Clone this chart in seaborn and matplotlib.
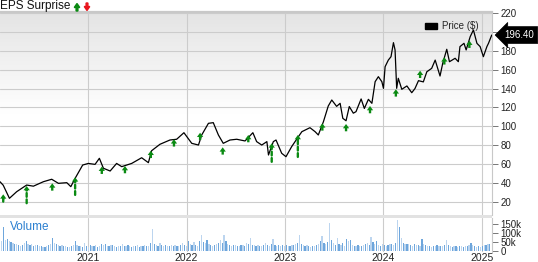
import matplotlib
matplotlib.use("Agg")
import numpy as np
import pandas as pd
import seaborn as sns
import matplotlib.pyplot as plt
from matplotlib.colors import LinearSegmentedColormap
from matplotlib.patches import Patch, Rectangle, FancyArrow
from matplotlib.transforms import IdentityTransform, blended_transform_factory

# ---------------- data ----------------
price_dates = [
    "2020-02-08", "2020-02-20", "2020-03-14", "2020-04-10", "2020-05-17", "2020-06-11",
    "2020-07-18", "2020-08-18", "2020-09-12", "2020-10-13", "2020-10-28", "2020-11-13",
    "2020-12-11", "2021-01-01", "2021-01-26", "2021-02-11", "2021-02-26", "2021-03-23",
    "2021-04-16", "2021-05-05", "2021-06-11", "2021-07-18", "2021-08-12", "2021-08-24",
    "2021-09-24", "2021-10-31", "2021-11-25", "2021-12-22", "2022-01-20", "2022-02-14",
    "2022-02-26", "2022-03-23", "2022-04-10", "2022-04-29", "2022-05-17", "2022-06-11",
    "2022-07-06", "2022-08-06", "2022-09-04", "2022-09-18", "2022-10-07", "2022-10-26",
    "2022-11-01", "2022-11-19", "2022-11-29", "2022-12-20", "2023-01-05", "2023-01-26",
    "2023-02-20", "2023-03-05", "2023-04-04", "2023-04-23", "2023-05-05", "2023-05-24",
    "2023-06-11", "2023-06-24", "2023-07-12", "2023-07-25", "2023-08-04", "2023-08-16",
    "2023-08-28", "2023-09-12", "2023-09-22", "2023-10-11", "2023-10-23", "2023-11-07",
    "2023-11-20", "2023-12-02", "2023-12-14", "2023-12-27", "2024-01-02", "2024-01-08",
    "2024-01-20", "2024-01-30", "2024-02-08", "2024-02-14", "2024-02-20", "2024-02-26",
    "2024-03-10", "2024-03-29", "2024-04-16", "2024-04-28", "2024-05-11", "2024-05-29",
    "2024-06-11", "2024-06-29", "2024-07-12", "2024-07-30", "2024-08-09", "2024-08-24",
    "2024-09-03", "2024-09-24", "2024-10-06", "2024-10-12", "2024-10-27", "2024-11-04",
    "2024-11-19", "2024-12-01", "2024-12-14", "2024-12-26", "2025-01-07", "2025-01-20",
    "2025-01-26", "2025-02-07",
]
prices = [
    41.7, 38.0, 24.2, 31.2, 38.2, 37.0,
    41.7, 44.3, 40.0, 40.7, 36.5, 45.3,
    59.3, 61.0, 60.0, 66.4, 55.9, 53.0,
    61.0, 57.6, 61.0, 67.0, 61.8, 74.4,
    81.2, 85.7, 86.5, 93.4, 82.2, 80.4,
    91.0, 103.3, 104.0, 91.0, 82.2, 85.7,
    86.5, 84.7, 93.4, 84.0, 80.4, 84.0,
    69.9, 84.0, 85.7, 71.7, 68.1, 78.7,
    89.2, 94.5, 98.7, 94.5, 91.0, 105.0,
    121.6, 127.9, 121.2, 124.4, 108.6, 106.0,
    121.0, 114.0, 115.6, 129.0, 119.0, 128.6,
    124.4, 147.2, 152.5, 147.2, 140.2, 163.0,
    170.0, 173.6, 188.4, 180.7, 140.2, 150.8,
    139.2, 142.7, 135.6, 140.0, 148.3, 147.0,
    157.7, 161.3, 170.0, 153.2, 166.6, 181.4,
    168.3, 171.9, 168.3, 184.2, 187.7, 180.7,
    194.7, 201.8, 187.7, 184.2, 173.6, 184.2,
    187.7, 196.4,
]

eps_dates = [
    "2020-02-20", "2020-05-17", "2020-08-20", "2020-11-13", "2021-02-20", "2021-05-17",
    "2021-08-21", "2021-11-15", "2022-02-20", "2022-05-15", "2022-08-18", "2022-11-13",
    "2023-02-18", "2023-05-20", "2023-08-16", "2023-11-13", "2024-02-17", "2024-05-17",
    "2024-08-15", "2024-11-16",
]
eps_price = [
    28.4, 37.2, 40.0, 46.4, 57.6, 58.3, 74.4, 86.5, 93.4, 78.0,
    91.0, 82.2, 91.0, 103.3, 102.6, 121.6, 139.2, 158.8, 173.0, 190.5,
]
eps_surprise_pct = [12, 40, 6, 41, 5, 7, 4, 6, 5, 4, 6, 43, 51, 5, 4, 6, 5, 4, 5, 6]

volume_k = [
    30, 55, 135, 60, 65, 55, 50, 45, 40, 42, 35, 30, 32,
    45, 55, 40, 35, 38, 30, 32, 35, 28, 30, 25, 22, 28,
    32, 40, 74, 45, 40, 35, 30, 32, 28, 30, 25, 26, 28,
    35, 55, 32, 30, 28, 25, 47, 30, 25, 35, 28, 30, 32,
    25, 30, 40, 35, 38, 30, 28, 32, 35, 30, 26, 28, 30,
    40, 30, 28, 35, 30, 25, 28, 30, 32, 26, 28, 30, 35,
    28, 30, 45, 125, 40, 35, 30, 45, 32, 30, 35, 28, 30,
    32, 30, 35, 28, 30, 32, 45, 35, 30, 55, 40, 32, 50,
    35, 30, 55, 90, 50, 45, 60, 40, 35, 30, 32, 38, 45,
    60, 45, 90, 55, 40, 35, 30, 32, 35, 30, 28, 32, 35,
    30, 45, 40, 74, 35, 32, 30, 35, 28, 30, 32, 45, 35,
    30, 40, 65, 35, 30, 32, 28, 35, 30, 32, 28, 30, 35,
    32, 38, 45, 90, 40, 35, 30, 32, 28, 25, 30, 28, 35,
    40, 55, 84, 45, 40, 50, 153, 60, 45, 35, 74, 40, 35,
    45, 30, 65, 55, 60, 35, 30, 28, 32, 30, 28, 35, 40,
    45, 35, 78, 50, 40, 55, 35, 30, 38, 32, 30, 35, 40,
    38, 35, 45, 174, 136, 74, 45, 40, 38, 40, 35, 30, 38,
    35, 32, 30, 65, 40, 35, 30, 28, 25, 30, 28, 32, 30,
    28, 30, 35, 60, 35, 28, 25, 30, 28, 25, 30, 28, 25,
    28, 30, 35, 48, 35, 30, 25, 28, 22, 30, 35, 32, 38,
    40,
]
volume_start = "2020-02-07"

price_ticks = list(range(20, 221, 20))
price_tick_labels = ["20", "40", "60", "80", "100", "120", "140", "160", "180", "", "220"]
volume_ticks = [0, 50, 100, 150]
volume_tick_labels = ["0", "50k", "100k", "150k"]
year_ticks = ["2021-01-01", "2022-01-01", "2023-01-01", "2024-01-01", "2025-01-01"]
year_labels = ["2021", "2022", "2023", "2024", "2025"]
last_price_label = "196.40"
last_price = 196.40

# ---------------- style ----------------
sns.set_theme(style="white")
plt.rcParams["font.family"] = ["Liberation Sans", "DejaVu Sans"]

W, H = 538, 262
fig = plt.figure(figsize=(W / 100, H / 100), dpi=100)


def rect(l, t, r, b):
    return [l / W, 1 - b / H, (r - l) / W, (b - t) / H]


GRID = "#cccccc"
GREEN = "#0a8a12"
TXT = "#222222"

# background gradient for the price panel
bg = fig.add_axes(rect(0, 12.5, 492, 215), zorder=0)
bg.axis("off")
cmap = LinearSegmentedColormap.from_list("g", ["#ffffff", "#ffffff", "#e4e4e4"])
grad = np.linspace(0, 1, 256).reshape(-1, 1)
bg.imshow(grad, cmap=cmap, aspect="auto", origin="lower", extent=[0, 1, 0, 1])
bg.set_xlim(0, 1)
bg.set_ylim(0, 1)

ax = fig.add_axes(rect(0, 12.5, 492, 215), zorder=1)
ax.patch.set_alpha(0)
axv = fig.add_axes(rect(0, 218, 492, 252), sharex=ax, zorder=1)
axv.patch.set_alpha(0)

# separator band
fig.patches.append(Rectangle((0, 1 - 218 / H), 492 / W, 3 / H, transform=fig.transFigure,
                             facecolor="#e2e2e2", edgecolor="none", zorder=0))

xmin = pd.Timestamp("2020-02-08")
xmax = pd.Timestamp("2025-02-08")

# ---- price panel ----
df = pd.DataFrame({"date": pd.to_datetime(price_dates), "price": prices})
sns.lineplot(data=df, x="date", y="price", ax=ax, color="black", linewidth=0.9, zorder=3)
ax.set_xlim(xmin, xmax)
ax.set_ylim(6.6, 220.2)
ax.set_yticks(price_ticks)
ax.set_yticklabels(price_tick_labels)
ax.set_xticks(pd.to_datetime(year_ticks))
ax.grid(True, color=GRID, linewidth=0.8, zorder=1)
ax.set_axisbelow(True)
ax.yaxis.tick_right()
ax.tick_params(axis="y", which="both", right=True, left=False, length=4, width=0.7,
               color="#777777", pad=2, labelsize=7, labelcolor=TXT)
ax.tick_params(axis="x", bottom=False, labelbottom=False)
ax.set_xlabel("")
ax.set_ylabel("")
for s in ["left", "bottom"]:
    ax.spines[s].set_visible(False)
ax.spines["top"].set_color("#c8c8c8")
ax.spines["top"].set_linewidth(1.6)
ax.spines["right"].set_color("#c8c8c8")
ax.spines["right"].set_linewidth(0.8)

# EPS arrows
edates = pd.to_datetime(eps_dates)
for d, p, pct in zip(edates, eps_price, eps_surprise_pct):
    L = max(7.3, pct * 0.43)
    dashed = pct >= 10
    if dashed:
        ax.annotate("", xy=(d, p), xycoords="data", xytext=(0, -L), textcoords="offset pixels",
                    arrowprops=dict(arrowstyle="-", color=GREEN, lw=1.7, linestyle=(0, (1.6, 1.1)),
                                    shrinkA=0, shrinkB=3.0), zorder=4)
        hl = 5.2
    else:
        hl = L
    ax.annotate("", xy=(d, p), xycoords="data", xytext=(0, -hl), textcoords="offset pixels",
                arrowprops=dict(arrowstyle="simple,head_length=0.31,head_width=0.45,tail_width=0.17",
                                mutation_scale=10, color=GREEN, shrinkA=0, shrinkB=0, lw=0),
                zorder=5)

# legend
ax.legend(handles=[Patch(facecolor="black", edgecolor="black")], labels=["Price ($)"],
          loc="upper right", bbox_to_anchor=(0.985, 0.985), frameon=False, fontsize=7,
          handlelength=1.3, handleheight=0.45, handletextpad=0.5, borderaxespad=0.2)

# last price tag
ax.annotate(last_price_label, xy=(1.0, last_price), xycoords=("axes fraction", "data"),
            xytext=(9, 0), textcoords="offset points", ha="left", va="center",
            color="white", fontsize=7,
            bbox=dict(boxstyle="larrow,pad=0.35", fc="black", ec="black", lw=0.5),
            annotation_clip=False, zorder=6)

# ---- volume panel ----
vdates = pd.date_range(volume_start, periods=len(volume_k), freq="7D")
vcolors = ["#6ea6dc" if i % 2 == 0 else "#bcd5ef" for i in range(len(volume_k))]
axv.bar(vdates, volume_k, width=4.6, color=vcolors, linewidth=0, zorder=2)
axv.set_xlim(xmin, xmax)
axv.set_ylim(-3.8, 183)
axv.set_yticks(volume_ticks)
axv.set_yticklabels(volume_tick_labels)
axv.yaxis.tick_right()
axv.tick_params(axis="y", right=True, left=False, length=4, width=0.7, color="#777777",
                pad=2, labelsize=7, labelcolor=TXT)
axv.set_xticks(pd.to_datetime(year_ticks))
axv.tick_params(axis="x", bottom=False, length=0, labelbottom=False)
axv.grid(True, axis="x", color=GRID, linewidth=0.8, zorder=1)
axv.grid(False, axis="y")
axv.set_axisbelow(True)
for s in ["left", "bottom", "top"]:
    axv.spines[s].set_visible(False)
axv.spines["right"].set_color("#c8c8c8")
axv.spines["right"].set_linewidth(0.8)
axv.text(10 / 492, 0.74, "Volume", transform=axv.transAxes, color="#2a7fd0", fontsize=8.5,
         va="center", ha="left")

# year labels placed just under the volume panel
btr = blended_transform_factory(axv.transData, fig.transFigure)
for d, lab in zip(pd.to_datetime(year_ticks), year_labels):
    axv.text(d, 1.2 / H, lab, transform=btr, ha="center", va="baseline", fontsize=7.5,
             color=TXT, clip_on=False)

# ---- header ----
fig.text(0.5 / W, 1 - 6.5 / H, "EPS Surprise", fontsize=8.5, va="center", ha="left", color="#111111")
it = IdentityTransform()
fig.patches.append(FancyArrow(77, H - 11, 0, 7.5, width=1.8, head_width=5.5, head_length=4,
                              length_includes_head=True, color=GREEN, transform=it))
fig.patches.append(FancyArrow(87, H - 3, 0, -7.5, width=1.8, head_width=5.5, head_length=4,
                              length_includes_head=True, color="#e8141c", transform=it))

fig.savefig("out.png", dpi=100)
